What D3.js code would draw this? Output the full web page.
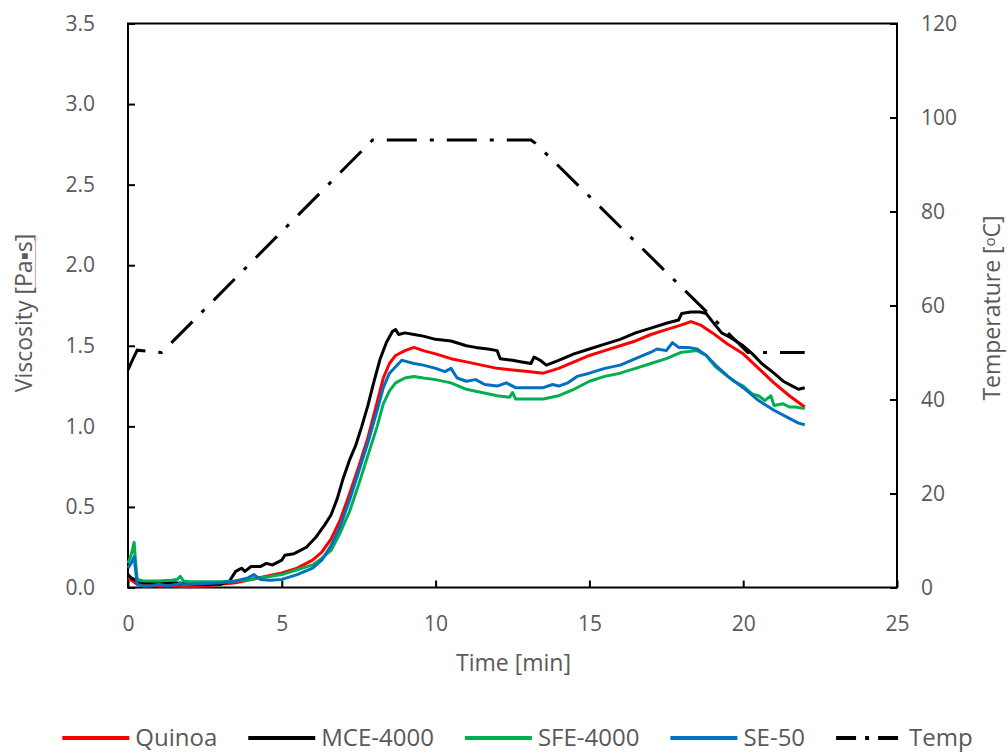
<!DOCTYPE html>
<html>
<head>
<meta charset="utf-8">
<script src="https://cdn.jsdelivr.net/npm/d3@7"></script>
<style>
  body { margin: 0; background: #fff; }
  text { font-family: "Open Sans", sans-serif; fill: #595959; }
</style>
</head>
<body>
<div id="chart"></div>
<script>
// series names and colours (legend order = draw order)
var seriesNames = ['Quinoa', 'MCE-4000', 'SFE-4000', 'SE-50'];
var seriesColors = ['#ff0000', '#000000', '#00b050', '#0070c0'];

// viscosity [Pa·s] vs time [min]
var quinoa = [[0,0.06],[0.15,0.04],[0.3,0.02],[0.6,0.015],[1.0,0.01],[1.5,0.01],[2.0,0.005],[2.5,0.01],[3.0,0.02],[3.5,0.03],[4.0,0.05],[4.5,0.07],[5.0,0.09],[5.5,0.12],[6.0,0.17],[6.3,0.22],[6.6,0.30],[6.9,0.42],[7.2,0.58],[7.5,0.75],[7.8,0.93],[8.1,1.15],[8.3,1.30],[8.5,1.39],[8.7,1.44],[9.0,1.47],[9.3,1.49],[9.6,1.47],[10.0,1.45],[10.5,1.42],[11.0,1.40],[11.5,1.38],[12.0,1.36],[12.5,1.35],[13.0,1.34],[13.5,1.33],[14.0,1.36],[14.5,1.40],[15.0,1.44],[15.5,1.47],[16.0,1.50],[16.5,1.53],[17.0,1.57],[17.5,1.60],[18.0,1.63],[18.3,1.65],[18.6,1.63],[19.0,1.58],[19.5,1.51],[20.0,1.45],[20.5,1.36],[21.0,1.27],[21.5,1.19],[22.0,1.12]];

var mce4000 = [[0,0.08],[0.1,0.06],[0.2,0.05],[0.4,0.03],[0.7,0.03],[1.0,0.025],[1.5,0.03],[2.0,0.02],[2.5,0.02],[3.0,0.02],[3.3,0.04],[3.5,0.10],[3.7,0.12],[3.8,0.10],[4.0,0.13],[4.3,0.13],[4.5,0.15],[4.7,0.14],[5.0,0.17],[5.1,0.20],[5.4,0.21],[5.8,0.25],[6.1,0.31],[6.4,0.39],[6.6,0.45],[6.8,0.55],[7.0,0.68],[7.2,0.79],[7.4,0.88],[7.6,1.00],[7.8,1.13],[8.0,1.28],[8.2,1.42],[8.4,1.52],[8.6,1.59],[8.7,1.60],[8.8,1.57],[9.0,1.58],[9.3,1.57],[9.6,1.56],[10.0,1.54],[10.5,1.53],[11.0,1.50],[11.3,1.49],[11.7,1.48],[12.0,1.47],[12.1,1.42],[12.5,1.41],[12.8,1.40],[13.1,1.39],[13.2,1.43],[13.4,1.41],[13.6,1.38],[14.0,1.41],[14.5,1.45],[15.0,1.48],[15.5,1.51],[16.0,1.54],[16.5,1.58],[17.0,1.61],[17.5,1.64],[17.9,1.66],[18.0,1.70],[18.3,1.71],[18.6,1.71],[18.8,1.70],[19.0,1.65],[19.3,1.58],[19.6,1.55],[20.0,1.50],[20.3,1.45],[20.6,1.39],[21.0,1.33],[21.3,1.28],[21.6,1.25],[21.8,1.23],[22.0,1.24]];

var sfe4000 = [[0,0.15],[0.1,0.20],[0.2,0.28],[0.25,0.15],[0.3,0.05],[0.5,0.04],[1.0,0.04],[1.4,0.045],[1.6,0.05],[1.7,0.07],[1.8,0.04],[2.0,0.035],[2.5,0.035],[3.0,0.035],[3.5,0.04],[4.0,0.05],[4.5,0.065],[5.0,0.08],[5.5,0.11],[6.0,0.14],[6.3,0.18],[6.6,0.23],[6.9,0.34],[7.2,0.47],[7.5,0.64],[7.8,0.82],[8.1,1.00],[8.3,1.14],[8.5,1.22],[8.7,1.27],[9.0,1.30],[9.3,1.31],[9.6,1.30],[10.0,1.29],[10.5,1.27],[11.0,1.23],[11.5,1.21],[12.0,1.19],[12.4,1.18],[12.5,1.21],[12.6,1.17],[13.0,1.17],[13.5,1.17],[14.0,1.19],[14.5,1.23],[15.0,1.28],[15.5,1.31],[16.0,1.33],[16.5,1.36],[17.0,1.39],[17.5,1.42],[18.0,1.46],[18.5,1.47],[18.8,1.44],[19.1,1.37],[19.5,1.31],[19.7,1.28],[20.0,1.25],[20.3,1.20],[20.5,1.19],[20.7,1.16],[20.9,1.19],[21.0,1.13],[21.3,1.14],[21.5,1.12],[21.7,1.12],[22.0,1.11]];

var se50 = [[0,0.12],[0.1,0.15],[0.2,0.19],[0.25,0.10],[0.3,0.02],[0.5,0.01],[0.8,0.01],[1.0,0.02],[1.3,0.01],[1.6,0.02],[1.7,0.03],[1.8,0.015],[2.0,0.02],[2.5,0.025],[3.0,0.03],[3.5,0.04],[3.9,0.06],[4.1,0.08],[4.3,0.05],[4.6,0.045],[5.0,0.05],[5.5,0.08],[6.0,0.12],[6.3,0.17],[6.6,0.26],[6.9,0.38],[7.2,0.54],[7.5,0.72],[7.8,0.90],[8.1,1.10],[8.3,1.24],[8.5,1.33],[8.7,1.37],[8.9,1.41],[9.1,1.40],[9.3,1.39],[9.6,1.38],[10.0,1.36],[10.3,1.34],[10.5,1.36],[10.7,1.30],[11.0,1.28],[11.3,1.29],[11.6,1.26],[12.0,1.25],[12.3,1.27],[12.6,1.24],[13.0,1.24],[13.5,1.24],[13.8,1.26],[14.0,1.25],[14.3,1.27],[14.6,1.31],[15.0,1.33],[15.5,1.36],[16.0,1.38],[16.5,1.42],[17.0,1.46],[17.2,1.48],[17.5,1.47],[17.7,1.52],[17.9,1.49],[18.2,1.49],[18.5,1.48],[18.8,1.44],[19.1,1.38],[19.5,1.31],[20.0,1.24],[20.5,1.16],[21.0,1.10],[21.5,1.05],[21.8,1.02],[22.0,1.01]];

// temperature [°C] vs time [min]
var temp = [[0,46.3],[0.15,48.5],[0.3,50.5],[0.6,50.3],[1.1,50],[7.95,95.2],[13.1,95.2],[13.25,94.5],[20.15,50],[22.0,50]];

var xTicks = [0, 5, 10, 15, 20, 25];
var yTicks = [0, 0.5, 1.0, 1.5, 2.0, 2.5, 3.0, 3.5];
var tempTicks = [0, 20, 40, 60, 80, 100, 120];

var width = 1008, height = 753;
var plot = {left: 128, right: 897, top: 23.5, bottom: 587.5};

var svg = d3.select('#chart').append('svg')
	.attr('width', width)
	.attr('height', height);

var x = d3.scaleLinear().domain([0, 25]).range([plot.left, plot.right]);
var y = d3.scaleLinear().domain([0, 3.5]).range([plot.bottom, plot.top]);
var yT = d3.scaleLinear().domain([0, 120]).range([plot.bottom, plot.top]);

// axes, ticks pointing inward
svg.append('g')
	.attr('transform', 'translate(0,' + plot.bottom + ')')
	.call(d3.axisBottom(x).tickValues(xTicks).tickFormat(d3.format('d')).tickSize(-7).tickSizeOuter(0).tickPadding(29));

svg.append('g')
	.attr('transform', 'translate(' + plot.left + ',0)')
	.call(d3.axisLeft(y).tickValues(yTicks).tickFormat(d3.format('.1f')).tickSize(-7).tickSizeOuter(0).tickPadding(33));

svg.append('g')
	.attr('transform', 'translate(' + plot.right + ',0)')
	.call(d3.axisRight(yT).tickValues(tempTicks).tickFormat(d3.format('d')).tickSize(-7).tickSizeOuter(0).tickPadding(24));

svg.selectAll('.domain').remove();
svg.selectAll('.tick line').attr('stroke', '#000').attr('stroke-width', 2);
svg.selectAll('.tick text')
	.style('font-family', '"Open Sans", sans-serif')
	.style('font-size', '21px')
	.attr('fill', '#595959');

// frame
svg.append('rect')
	.attr('x', plot.left)
	.attr('y', plot.top)
	.attr('width', plot.right - plot.left)
	.attr('height', plot.bottom - plot.top)
	.attr('fill', 'none')
	.attr('stroke', '#000')
	.attr('stroke-width', 2);

var line = d3.line()
	.x(d => x(d[0]))
	.y(d => y(d[1]));

var tLine = d3.line()
	.x(d => x(d[0]))
	.y(d => yT(d[1]));

[quinoa, mce4000, sfe4000, se50].forEach((data, i) => {
	svg.append('path')
		.datum(data)
		.attr('fill', 'none')
		.attr('stroke', seriesColors[i])
		.attr('stroke-width', 3)
		.attr('stroke-linejoin', 'round')
		.attr('d', line);
});

svg.append('path')
	.datum(temp)
	.attr('fill', 'none')
	.attr('stroke', '#000')
	.attr('stroke-width', 3)
	.attr('stroke-dasharray', '30,13,4,13')
	.attr('d', tLine);

// axis titles
svg.append('text')
	.attr('x', (plot.left + plot.right) / 2 + 1)
	.attr('y', 671)
	.attr('text-anchor', 'middle')
	.style('font-size', '23px')
	.text('Time [min]');

var vLabel = 'Viscosity [Pa\u25aas]';
var vTitle = svg.append('text')
	.attr('transform', 'translate(32,313) rotate(-90)')
	.attr('text-anchor', 'middle')
	.style('font-size', '23px')
	.text(vLabel);

// word's spell-check mark along the unit
var vLen = vTitle.node().getComputedTextLength();
var uStart = vTitle.node().getSubStringLength(0, vLabel.indexOf('[') + 1);
svg.append('line')
	.attr('x1', 35.5).attr('x2', 35.5)
	.attr('y1', 313 + vLen / 2 - uStart).attr('y2', 313 - vLen / 2 + 2)
	.attr('stroke', '#ff9999')
	.attr('stroke-width', 1);

var tTitle = svg.append('text')
	.attr('transform', 'translate(1000,308) rotate(-90)')
	.attr('text-anchor', 'middle')
	.style('font-size', '23px');
tTitle.append('tspan').text('Temperature [');
tTitle.append('tspan').attr('baseline-shift', '35%').style('font-size', '15px').text('o');
tTitle.append('tspan').text('C]');

// legend
var legendItems = seriesNames.map((n, i) => ({name: n, color: seriesColors[i], dash: null}))
	.concat([{name: 'Temp', color: '#000', dash: '20,9,4,9'}]);

var legend = svg.append('g');
var lx = 0;
legendItems.forEach((d, i) => {
	var g = legend.append('g').attr('transform', 'translate(' + lx + ',0)');
	g.append('line')
		.attr('x1', 0).attr('x2', 67)
		.attr('y1', 0).attr('y2', 0)
		.attr('stroke', d.color)
		.attr('stroke-width', 4)
		.attr('stroke-dasharray', d.dash);
	var t = g.append('text')
		.attr('x', 73)
		.attr('y', 8)
		.style('font-size', '24px')
		.text(d.name);
	lx += 73 + t.node().getComputedTextLength() + 31;
});
lx -= 31;
legend.attr('transform', 'translate(' + (517.5 - lx / 2) + ',738)');
</script>
</body>
</html>
